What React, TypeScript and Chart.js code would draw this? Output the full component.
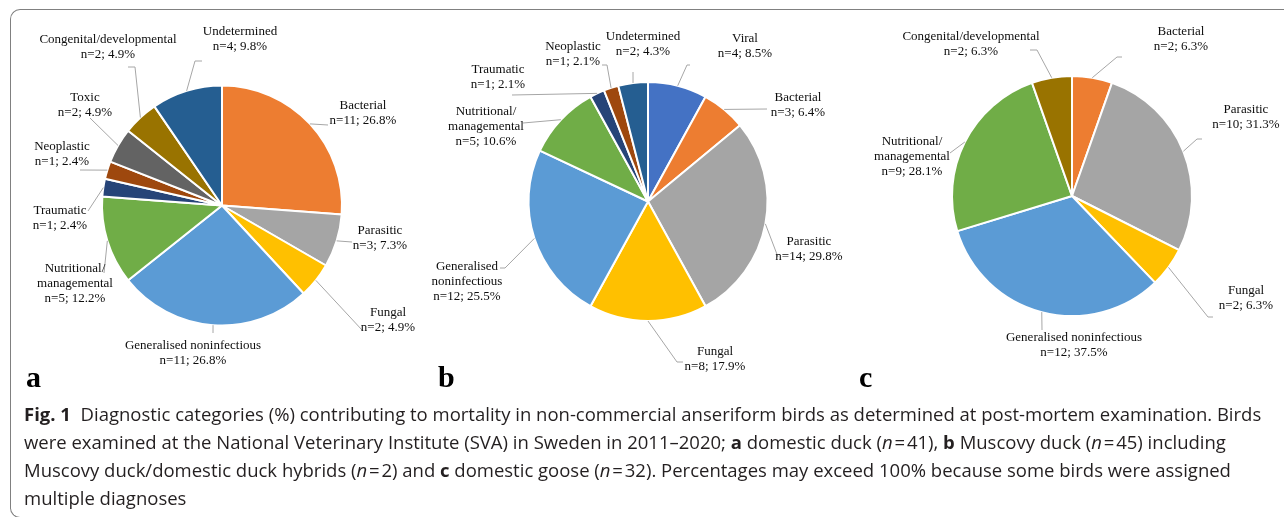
import React, { useEffect, useRef } from 'react';
import { Chart, registerables } from 'chart.js';
Chart.register(...registerables);

// ---------- data ----------
const catsA = ['Bacterial', 'Parasitic', 'Fungal', 'Generalised noninfectious', 'Nutritional/managemental', 'Traumatic', 'Neoplastic', 'Toxic', 'Congenital/developmental', 'Undetermined'];
const countsA = [11, 3, 2, 11, 5, 1, 1, 2, 2, 4];
const pctA = [26.8, 7.3, 4.9, 26.8, 12.2, 2.4, 2.4, 4.9, 4.9, 9.8];

const catsB = ['Viral', 'Bacterial', 'Parasitic', 'Fungal', 'Generalised noninfectious', 'Nutritional/managemental', 'Traumatic', 'Neoplastic', 'Undetermined'];
const countsB = [4, 3, 14, 8, 12, 5, 1, 1, 2];
const pctB = [8.5, 6.4, 29.8, 17.9, 25.5, 10.6, 2.1, 2.1, 4.3];

const catsC = ['Bacterial', 'Parasitic', 'Fungal', 'Generalised noninfectious', 'Nutritional/managemental', 'Congenital/developmental'];
const countsC = [2, 10, 2, 12, 9, 2];
const pctC = [6.3, 31.3, 6.3, 37.5, 28.1, 6.3];

const COLORS: Record<string, string> = {
  'Viral': '#4472C4',
  'Bacterial': '#ED7D31',
  'Parasitic': '#A5A5A5',
  'Fungal': '#FFC000',
  'Generalised noninfectious': '#5B9BD5',
  'Nutritional/managemental': '#70AD47',
  'Traumatic': '#264478',
  'Neoplastic': '#9E480E',
  'Toxic': '#636363',
  'Congenital/developmental': '#997300',
  'Undetermined': '#255E91',
};

// ---------- layout (label placement relative to pie centre) ----------
type LabelLayout = { lx: number; ly: number; wrap?: boolean; leader: number[][] };
type Panel = {
  cats: string[]; counts: number[]; pct: number[];
  cx: number; cy: number; r: number; letter: string; letterX: number;
  labels: LabelLayout[];
};

const PANELS: Panel[] = [
  {
    cats: catsA, counts: countsA, pct: pctA, cx: 222, cy: 205.5, r: 120, letter: 'a', letterX: 26,
    labels: [
      { lx: 141, ly: -100, leader: [[106, -80.5]] },
      { lx: 158, ly: 25.5, leader: [[130, 36.5]] },
      { lx: 166, ly: 107.5, leader: [[140, 124.5]] },
      { lx: -29, ly: 140.5, leader: [[-9, 127.5]] },
      { lx: -147, ly: 63.5, wrap: true, leader: [[-118, 67.5]] },
      { lx: -162, ly: 5.5, leader: [[-134, 5.5]] },
      { lx: -160, ly: -58.5, leader: [[-142, -35.5]] },
      { lx: -137, ly: -107.5, leader: [[-132, -87.5]] },
      { lx: -114, ly: -165.5, leader: [[-87, -138.5], [-94, -138.5]] },
      { lx: 18, ly: -173.5, leader: [[-27, -144.5], [-20, -144.5]] },
    ],
  },
  {
    cats: catsB, counts: countsB, pct: pctB, cx: 648, cy: 201.5, r: 119.5, letter: 'b', letterX: 438,
    labels: [
      { lx: 97, ly: -162.5, leader: [[39, -136.5], [42, -136.5]] },
      { lx: 150, ly: -103.5, leader: [[119, -92.5]] },
      { lx: 161, ly: 40.5, leader: [[130, 55.5]] },
      { lx: 67, ly: 150.5, leader: [[29, 160.5], [35, 160.5]] },
      { lx: -181, ly: 65.5, wrap: true, leader: [[-143, 66.5], [-148, 66.5]] },
      { lx: -162, ly: -89.5, wrap: true, leader: [[-125, -78.5]] },
      { lx: -150, ly: -131.5, leader: [[-136, -106.5]] },
      { lx: -75, ly: -154.5, leader: [[-41, -136.5], [-46, -136.5]] },
      { lx: -5, ly: -164.5, leader: [[-15, -129.5]] },
    ],
  },
  {
    cats: catsC, counts: countsC, pct: pctC, cx: 1072, cy: 196, r: 120, letter: 'c', letterX: 859,
    labels: [
      { lx: 109, ly: -164, leader: [[45, -139], [50, -139]] },
      { lx: 174, ly: -86, leader: [[125, -57], [130, -57]] },
      { lx: 174, ly: 95, leader: [[136, 121], [141, 121]] },
      { lx: 2, ly: 142, leader: [[-30, 134]] },
      { lx: -160, ly: -54, wrap: true, leader: [[-122, -43]] },
      { lx: -101, ly: -159, leader: [[-35, -146], [-42, -146]] },
    ],
  },
];

const CANVAS_W = 1284;
const CANVAS_H = 400;

function splitName(name: string, wrap?: boolean): string[] {
  if (!wrap) return [name];
  const slash = name.indexOf('/');
  if (slash >= 0) return [name.slice(0, slash + 1), name.slice(slash + 1)];
  const sp = name.indexOf(' ');
  if (sp >= 0) return [name.slice(0, sp), name.slice(sp + 1)];
  return [name];
}

function PiePanel({ panel }: { panel: Panel }) {
  const ref = useRef<HTMLCanvasElement | null>(null);
  useEffect(() => {
    if (!ref.current) return;
    const p = panel;
    const labelPlugin = {
      id: 'outerLabels',
      afterDatasetsDraw(chart: any) {
        const ctx = chart.ctx as CanvasRenderingContext2D;
        const meta = chart.getDatasetMeta(0);
        ctx.save();
        meta.data.forEach((arc: any, i: number) => {
          const lay = p.labels[i];
          if (!lay) return;
          const { x, y, startAngle, endAngle, outerRadius } = arc.getProps(['x', 'y', 'startAngle', 'endAngle', 'outerRadius'], true);
          const mid = (startAngle + endAngle) / 2;
          const sx = x + Math.cos(mid) * outerRadius;
          const sy = y + Math.sin(mid) * outerRadius;
          ctx.strokeStyle = '#a6a6a6';
          ctx.lineWidth = 1;
          ctx.beginPath();
          ctx.moveTo(sx, sy);
          lay.leader.forEach((pt) => ctx.lineTo(x + pt[0], y + pt[1]));
          ctx.stroke();
          const lines = [...splitName(p.cats[i], lay.wrap), `n=${p.counts[i]}; ${p.pct[i].toFixed(1)}%`];
          ctx.fillStyle = '#0d0d0d';
          ctx.font = '13px "Liberation Serif", "Times New Roman", serif';
          ctx.textAlign = 'center';
          ctx.textBaseline = 'middle';
          lines.forEach((t, k) => ctx.fillText(t, x + lay.lx, y + lay.ly + k * 15));
        });
        ctx.font = 'bold 30px "Liberation Serif", "Times New Roman", serif';
        ctx.fillStyle = '#000';
        ctx.textAlign = 'left';
        ctx.textBaseline = 'alphabetic';
        ctx.fillText(p.letter, p.letterX, 387);
        ctx.restore();
      },
    };
    const chart = new Chart(ref.current, {
      type: 'pie',
      data: {
        labels: p.cats,
        datasets: [{
          data: p.counts,
          backgroundColor: p.cats.map((c) => COLORS[c]),
          borderColor: '#ffffff',
          borderWidth: 2,
          radius: p.r,
        } as any],
      },
      options: {
        responsive: false,
        animation: false,
        events: [],
        layout: {
          padding: {
            left: p.cx - p.r,
            right: CANVAS_W - (p.cx + p.r),
            top: p.cy - p.r,
            bottom: CANVAS_H - (p.cy + p.r),
          },
        },
        plugins: { legend: { display: false }, tooltip: { enabled: false } },
      },
      plugins: [labelPlugin],
    });
    return () => chart.destroy();
  }, [panel]);
  return (
    <canvas
      ref={ref}
      width={CANVAS_W}
      height={CANVAS_H}
      style={{ position: 'absolute', left: 0, top: 0, width: CANVAS_W, height: CANVAS_H }}
    />
  );
}

const capFont = '"Open Sans", "Noto Sans", sans-serif';

export default function App() {
  return (
    <div style={{ position: 'absolute', left: 0, top: 0, width: 1284, height: 517, overflow: 'hidden', background: '#fff' }}>
      <div style={{
        position: 'absolute', left: 10, top: 9, width: 1300, height: 507,
        borderLeft: '1.5px solid #808080', borderTop: '1.5px solid #808080',
        borderBottom: '1.5px solid #808080',
        borderTopLeftRadius: 10, borderBottomLeftRadius: 10,
      }} />
      {PANELS.map((p, i) => <PiePanel key={i} panel={p} />)}
      <div style={{
        position: 'absolute', left: 24, top: 400, width: 1260,
        fontFamily: capFont, fontSize: 18.5, lineHeight: '28px', color: '#231f20',
        whiteSpace: 'nowrap',
      }}>
        <div><b>Fig. 1</b>&nbsp; Diagnostic categories (%) contributing to mortality in non-commercial anseriform birds as determined at post-mortem examination. Birds</div>
        <div>were examined at the National Veterinary Institute (SVA) in Sweden in 2011–2020; <b>a</b> domestic duck (<i>n</i>&#8202;=&#8202;41), <b>b</b> Muscovy duck (<i>n</i>&#8202;=&#8202;45) including</div>
        <div>Muscovy duck/domestic duck hybrids (<i>n</i>&#8202;=&#8202;2) and <b>c</b> domestic goose (<i>n</i>&#8202;=&#8202;32). Percentages may exceed 100% because some birds were assigned</div>
        <div>multiple diagnoses</div>
      </div>
    </div>
  );
}
